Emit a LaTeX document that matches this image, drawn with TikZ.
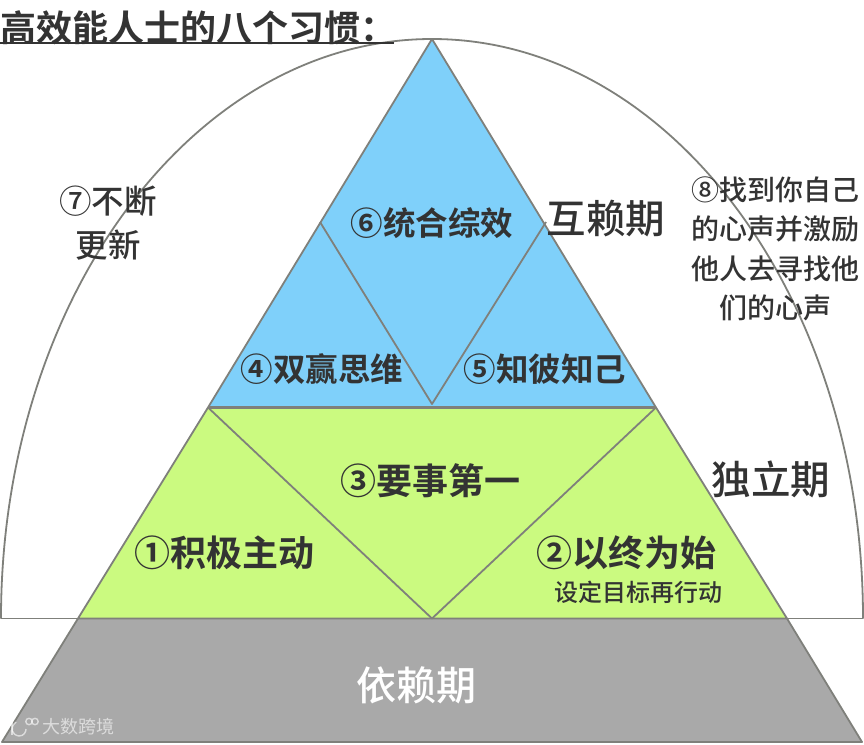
\documentclass[tikz,border=0pt]{standalone}
\usepackage{fontspec}
\newfontfamily\cjkb{Noto Sans CJK SC Bold}
\newfontfamily\cjkm{Noto Sans CJK SC Medium}
\newfontfamily\cjkr{Noto Sans CJK SC}
\definecolor{edge}{HTML}{7F807B}
\definecolor{bluef}{HTML}{7FD0FA}
\definecolor{greenf}{HTML}{CBFA80}
\definecolor{greyf}{HTML}{A9A9A9}
\definecolor{ink}{HTML}{333333}
\tikzset{
  part/.style={draw=edge,line width=1.8pt,line join=round},
  lab/.style={text=ink,inner sep=0pt,align=center},
  heavy/.style={lab,font={\fontsize{#1}{#1}\cjkb}},
  medium/.style={lab,font={\fontsize{#1}{#1}\cjkm}},
  wmark/.style={draw=white,draw opacity=.6,line width=1.4pt},
}
\begin{document}
\begin{tikzpicture}[x=1pt,y=-1pt]
\useasboundingbox (0,0) rectangle (864,744);
\coordinate (apex) at (432,39);
\coordinate (bl) at (2,742);
\coordinate (br) at (862,742);
\coordinate (gl) at (78,618.5);
\coordinate (gr) at (787,618.5);
\coordinate (ml) at (208,407.5);
\coordinate (mr) at (656,407.5);
\coordinate (gm) at (432,618.5);
\coordinate (bm) at (432,404);
\coordinate (il) at (320,222);
\coordinate (ir) at (546,222);
\coordinate (al) at (1,618.5);
\coordinate (ar) at (863,618.5);
\draw[part] (al) arc[start angle=180,end angle=360,x radius=431,y radius=579.5];
\draw[part] (al) -- (gl);
\draw[part] (gr) -- (ar);
\fill[greyf] (gl) -- (gr) -- (br) -- (bl) -- cycle;
\draw[part] (gl) -- (bl) -- (br) -- (gr);
\fill[greenf] (ml) -- (mr) -- (gr) -- (gl) -- cycle;
\fill[bluef] (apex) -- (mr) -- (ml) -- cycle;
\draw[part] (apex) -- (mr) -- (gr) -- (gl) -- (ml) -- cycle;
\draw[part,line width=3pt] (ml) -- (mr);
\draw[part] (il) -- (bm) -- (ir);
\draw[part] (ml) -- (gm) -- (mr);
\node[heavy=36pt,anchor=west] (title) at (0,28) {高效能人士的八个习惯：};
\coordinate (ua) at (0,43);
\coordinate (ub) at (394,43);
\draw[ink,line width=2pt] (ua) -- (ub);
\node[medium=32.5pt] (n7) at (108,223) {⑦不断\\[11.5pt]更新};
\node[medium=28pt] (n8) at (775,249) {⑧找到你自己\\[11.5pt]的心声并激励\\[11.5pt]他人去寻找他\\[11.5pt]们的心声};
\node[heavy=32.5pt] (n6) at (432,223) {⑥统合综效};
\node[medium=39.5pt] (hu) at (606,219) {互赖期};
\node[heavy=32.5pt] (n4) at (322,369) {④双赢思维};
\node[heavy=32.5pt] (n5) at (545,369) {⑤知彼知己};
\node[heavy=36pt] (n3) at (430,481) {③要事第一};
\node[medium=39.5pt] (du) at (771,479) {独立期};
\node[heavy=36pt] (n1) at (224,553) {①积极主动};
\node[heavy=36pt] (n2) at (626,553) {②以终为始};
\node[medium=24pt] (sub) at (638,592) {设定目标再行动};
\node[medium=40pt,text=white] (yi) at (416,685) {依赖期};
\node[lab,text=white,opacity=.6,font={\fontsize{18pt}{18pt}\cjkr},anchor=west] (wm) at (42,727) {大数跨境};
\draw[wmark] (12,721) -- (12,735);
\draw[wmark] (16,722) .. controls (9,728) and (12,735) .. (19,736) .. controls (24,736) and (26,732) .. (26,729);
\draw[wmark] (29,721.5) circle[radius=3.2];
\draw[wmark] (35,721.5) circle[radius=3.2];
\end{tikzpicture}
\end{document}
